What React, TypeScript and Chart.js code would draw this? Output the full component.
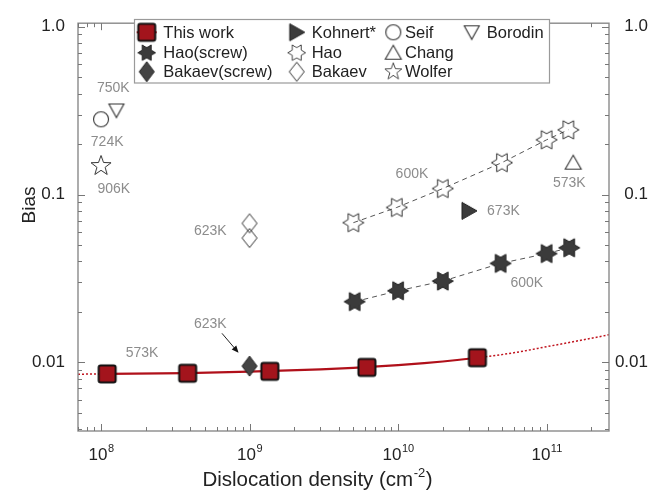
import React, { useEffect, useRef } from 'react';
import { Chart, registerables } from 'chart.js';

Chart.register(...registerables);

const FONT = '"Liberation Sans", Arial, sans-serif';

// ---------------- data ----------------
const thisWorkX = [1.1e8, 3.83e8, 1.37e9, 6.17e9, 3.42e10];
const thisWorkY = [0.00854, 0.00861, 0.00884, 0.00933, 0.01066];

const fitSolidX = [1.1e8, 3.8e8, 1e9, 3e9, 5e9, 1e10, 1.5e10, 2e10, 2.5e10, 3.42e10];
const fitSolidY = [0.00855, 0.00864, 0.0088, 0.00908, 0.00927, 0.00963, 0.0099, 0.01012, 0.01033, 0.01066];
const fitLeftX = [7e7, 1.1e8];
const fitLeftY = [0.0085, 0.00855];
const fitRightX = [3.42e10, 6e10, 1e11, 1.6e11, 2.63e11];
const fitRightY = [0.01066, 0.0114, 0.0124, 0.0134, 0.0146];

const haoScrewX = [5.1e9, 1e10, 2e10, 4.9e10, 1e11, 1.42e11];
const haoScrewY = [0.023, 0.0267, 0.0305, 0.0389, 0.0445, 0.0482];
const haoX = [5e9, 9.8e9, 2e10, 5e10, 1e11, 1.4e11];
const haoY = [0.068, 0.0838, 0.1086, 0.155, 0.212, 0.243];
const bakaevScrewX = [1e9];
const bakaevScrewY = [0.0095];
const bakaevX = [1e9, 1e9];
const bakaevY = [0.0674, 0.0551];
const kohnertX = [3e10];
const kohnertY = [0.08];
const seifX = [1e8];
const seifY = [0.281];
const changX = [1.51e11];
const changY = [0.155];
const wolferX = [1e8];
const wolferY = [0.148];
const borodinX = [1.27e8];
const borodinY = [0.317];

// temperature annotations (data coordinates)
const noteTexts = ['750K', '724K', '906K', '623K', '600K', '673K', '573K', '600K', '573K', '623K'];
const noteX = [1.21e8, 1.1e8, 1.22e8, 5.44e8, 1.24e10, 5.12e10, 1.42e11, 7.36e10, 1.89e8, 5.44e8];
const noteY = [0.433, 0.2047, 0.107, 0.0608, 0.1328, 0.0802, 0.117, 0.0298, 0.0114, 0.017];
const arrowFrom = [6.52e8, 0.0149];
const arrowTo = [8.43e8, 0.0114];

// axes
const xMin = 7e7;
const xMax = 2.63e11;
const yMin = 0.0039;
const yMax = 1.05;
const xTickValues = [1e8, 1e9, 1e10, 1e11];
const xTickExps = ['8', '9', '10', '11'];
const yTickValues = [0.01, 0.1, 1];
const yTickLabels = ['0.01', '0.1', '1.0'];
const xTitleMain = 'Dislocation density (cm';
const xTitleSup = '-2';
const xTitleEnd = ')';
const yTitle = 'Bias';

const legendColumns = [
  ['This work', 'Hao(screw)', 'Bakaev(screw)'],
  ['Kohnert*', 'Hao', 'Bakaev'],
  ['Seif', 'Chang', 'Wolfer'],
  ['Borodin'],
];

const zip = (xs: number[], ys: number[]) => xs.map((x, i) => ({ x, y: ys[i] }));

type Ctx = CanvasRenderingContext2D;
function makeMarker(size: number, draw: (c: Ctx) => void): HTMLCanvasElement {
  const c = document.createElement('canvas');
  c.width = size;
  c.height = size;
  const ctx = c.getContext('2d')!;
  ctx.translate(size / 2, size / 2);
  draw(ctx);
  return c;
}
function poly(ctx: Ctx, pts: number[][]) {
  ctx.beginPath();
  pts.forEach((p, i) => (i ? ctx.lineTo(p[0], p[1]) : ctx.moveTo(p[0], p[1])));
  ctx.closePath();
}
function starPts(n: number, R: number, r: number, start: number) {
  const pts: number[][] = [];
  for (let i = 0; i < 2 * n; i++) {
    const a = start + (i * Math.PI) / n;
    const rad = i % 2 === 0 ? R : r;
    pts.push([rad * Math.cos(a), rad * Math.sin(a)]);
  }
  return pts;
}

function buildMarkers() {
  const m: Record<string, HTMLCanvasElement> = {};
  m['This work'] = makeMarker(24, (c) => {
    c.beginPath();
    (c as any).roundRect(-8.5, -8.5, 17, 17, 2);
    c.fillStyle = '#a3141c';
    c.fill();
    c.lineWidth = 2;
    c.strokeStyle = '#111';
    c.stroke();
  });
  m['Hao(screw)'] = makeMarker(26, (c) => {
    poly(c, starPts(6, 10.5, 10.5 / Math.sqrt(3), 0));
    c.fillStyle = '#3b3b3b';
    c.fill();
    c.lineWidth = 1;
    c.strokeStyle = '#1c1c1c';
    c.stroke();
  });
  m['Hao'] = makeMarker(26, (c) => {
    poly(c, starPts(6, 10.5, 10.5 / Math.sqrt(3), 0));
    c.lineWidth = 1;
    c.strokeStyle = '#2e2e2e';
    c.stroke();
  });
  m['Bakaev(screw)'] = makeMarker(26, (c) => {
    poly(c, [[0, -10], [7.5, 0], [0, 10], [-7.5, 0]]);
    c.fillStyle = '#444';
    c.fill();
    c.lineWidth = 1;
    c.strokeStyle = '#222';
    c.stroke();
  });
  m['Bakaev'] = makeMarker(24, (c) => {
    poly(c, [[0, -9.5], [7.5, 0], [0, 9.5], [-7.5, 0]]);
    c.lineWidth = 1;
    c.strokeStyle = '#333';
    c.stroke();
  });
  m['Kohnert*'] = makeMarker(24, (c) => {
    poly(c, [[-7, -8.5], [8, 0], [-7, 8.5]]);
    c.fillStyle = '#3b3b3b';
    c.fill();
    c.lineWidth = 1;
    c.strokeStyle = '#222';
    c.stroke();
  });
  m['Seif'] = makeMarker(22, (c) => {
    c.beginPath();
    c.arc(0, 0, 7.5, 0, Math.PI * 2);
    c.lineWidth = 1.1;
    c.strokeStyle = '#333';
    c.stroke();
  });
  m['Chang'] = makeMarker(22, (c) => {
    poly(c, [[-8, 6.5], [8, 6.5], [0, -7.5]]);
    c.lineWidth = 1.1;
    c.strokeStyle = '#333';
    c.stroke();
  });
  m['Borodin'] = makeMarker(22, (c) => {
    poly(c, [[-7.5, -6.5], [7.5, -6.5], [0, 7]]);
    c.lineWidth = 1.1;
    c.strokeStyle = '#333';
    c.stroke();
  });
  m['Wolfer'] = makeMarker(26, (c) => {
    poly(c, starPts(5, 10.5, 4.3, -Math.PI / 2));
    c.lineWidth = 1;
    c.strokeStyle = '#333';
    c.stroke();
  });
  return m;
}

const isDecade = (v: number, t: number) => Math.abs(Math.log10(v) - Math.log10(t)) < 1e-6;

export default function App() {
  const ref = useRef<HTMLCanvasElement>(null);

  useEffect(() => {
    document.body.style.margin = '0';
    const markers = buildMarkers();

    const markerSet = (label: string, xs: number[], ys: number[]) => ({
      label,
      data: zip(xs, ys),
      showLine: false,
      pointStyle: markers[label],
      pointRadius: 6,
      borderWidth: 0,
    });

    const chrome = {
      id: 'chrome',
      afterDatasetsDraw(chart: any) {
        const { ctx, chartArea: a, scales } = chart;
        const xs = scales.x;
        const ys = scales.y;
        ctx.save();
        // annotations
        ctx.font = `14px ${FONT}`;
        ctx.fillStyle = '#8c8c8c';
        ctx.textAlign = 'center';
        ctx.textBaseline = 'middle';
        noteTexts.forEach((t, i) => {
          ctx.fillText(t, xs.getPixelForValue(noteX[i]), ys.getPixelForValue(noteY[i]));
        });
        // arrow
        const x0 = xs.getPixelForValue(arrowFrom[0]);
        const y0 = ys.getPixelForValue(arrowFrom[1]);
        const x1 = xs.getPixelForValue(arrowTo[0]);
        const y1 = ys.getPixelForValue(arrowTo[1]);
        const ang = Math.atan2(y1 - y0, x1 - x0);
        ctx.strokeStyle = '#222';
        ctx.fillStyle = '#111';
        ctx.lineWidth = 1;
        ctx.beginPath();
        ctx.moveTo(x0, y0);
        ctx.lineTo(x1 - 5 * Math.cos(ang), y1 - 5 * Math.sin(ang));
        ctx.stroke();
        ctx.beginPath();
        ctx.moveTo(x1, y1);
        ctx.lineTo(x1 - 7 * Math.cos(ang) + 3 * Math.sin(ang), y1 - 7 * Math.sin(ang) - 3 * Math.cos(ang));
        ctx.lineTo(x1 - 7 * Math.cos(ang) - 3 * Math.sin(ang), y1 - 7 * Math.sin(ang) + 3 * Math.cos(ang));
        ctx.closePath();
        ctx.fill();

        // frame
        ctx.strokeStyle = '#8a8a8a';
        ctx.lineWidth = 1.4;
        ctx.strokeRect(a.left, a.top, a.right - a.left, a.bottom - a.top);
        // inward ticks
        ctx.lineWidth = 1;
        ctx.strokeStyle = '#777';
        ctx.beginPath();
        for (let e = 7; e <= 11; e++) {
          for (let m = 1; m <= 9; m++) {
            const v = m * Math.pow(10, e);
            if (v < xMin || v > xMax) continue;
            const p = Math.round(xs.getPixelForValue(v)) + 0.5;
            const len = m === 1 ? 7 : 4;
            ctx.moveTo(p, a.bottom);
            ctx.lineTo(p, a.bottom - len);
            ctx.moveTo(p, a.top);
            ctx.lineTo(p, a.top + len);
          }
        }
        for (let e = -3; e <= 0; e++) {
          for (let m = 1; m <= 9; m++) {
            const v = m * Math.pow(10, e);
            if (v < yMin || v > yMax) continue;
            const p = Math.round(ys.getPixelForValue(v)) + 0.5;
            const len = m === 1 ? 7 : 4;
            ctx.moveTo(a.left, p);
            ctx.lineTo(a.left + len, p);
            ctx.moveTo(a.right, p);
            ctx.lineTo(a.right - len, p);
          }
        }
        ctx.stroke();
        ctx.restore();
      },
      afterDraw(chart: any) {
        const { ctx, scales } = chart;
        const xs = scales.x;
        ctx.save();
        // x tick labels with superscripts
        ctx.fillStyle = '#222';
        ctx.textBaseline = 'alphabetic';
        ctx.textAlign = 'left';
        xTickValues.forEach((v, i) => {
          const p = xs.getPixelForValue(v);
          ctx.font = `17px ${FONT}`;
          const wb = ctx.measureText('10').width;
          ctx.font = `11px ${FONT}`;
          const we = ctx.measureText(xTickExps[i]).width;
          const s = p - (wb + we) / 2;
          ctx.font = `17px ${FONT}`;
          ctx.fillText('10', s, 460);
          ctx.font = `11px ${FONT}`;
          ctx.fillText(xTickExps[i], s + wb + 0.5, 452);
        });
        // x title
        ctx.font = `20.5px ${FONT}`;
        const w1 = ctx.measureText(xTitleMain).width;
        const w3 = ctx.measureText(xTitleEnd).width;
        ctx.font = `13px ${FONT}`;
        const w2 = ctx.measureText(xTitleSup).width;
        const sx = 317 - (w1 + w2 + w3) / 2;
        ctx.font = `20.5px ${FONT}`;
        ctx.fillText(xTitleMain, sx, 486);
        ctx.font = `13px ${FONT}`;
        ctx.fillText(xTitleSup, sx + w1 + 0.5, 477);
        ctx.font = `20.5px ${FONT}`;
        ctx.fillText(xTitleEnd, sx + w1 + w2 + 1, 486);
        // y title
        ctx.font = `19px ${FONT}`;
        ctx.translate(30, 205);
        ctx.rotate(-Math.PI / 2);
        ctx.textAlign = 'center';
        ctx.textBaseline = 'middle';
        ctx.fillText(yTitle, 0, 0);
        ctx.setTransform(1, 0, 0, 1, 0, 0);

        // legend
        ctx.fillStyle = '#fff';
        ctx.strokeStyle = '#9a9a9a';
        ctx.lineWidth = 1.2;
        ctx.fillRect(134.5, 19.5, 415, 63.5);
        ctx.strokeRect(134.5, 19.5, 415, 63.5);
        const mx = [146.7, 296.7, 393.3, 471.7];
        const tx = [163.3, 311.7, 405, 486.7];
        const ry = [32.3, 52.7, 71.7];
        ctx.font = `16.5px ${FONT}`;
        ctx.textAlign = 'left';
        ctx.textBaseline = 'middle';
        legendColumns.forEach((col, ci) => {
          col.forEach((lab, ri) => {
            const cx = mx[ci];
            const cy = ry[ri];
            if (lab === 'This work') {
              ctx.strokeStyle = '#b0101a';
              ctx.lineWidth = 2;
              ctx.beginPath();
              ctx.moveTo(cx - 10, cy);
              ctx.lineTo(cx + 10, cy);
              ctx.stroke();
            }
            const mk = markers[lab];
            const sc = lab === 'Wolfer' || lab === 'Hao' || lab === 'Hao(screw)' ? 0.85 : 1;
            const w = mk.width * sc;
            const h = mk.height * sc;
            ctx.drawImage(mk, cx - w / 2, cy - h / 2, w, h);
            ctx.fillStyle = '#222';
            ctx.fillText(lab, tx[ci], cy + 1);
          });
        });
        ctx.restore();
      },
    };

    const yTickCallback = (v: any) => {
      const i = yTickValues.findIndex((t) => isDecade(+v, t));
      return i >= 0 ? yTickLabels[i] : '';
    };

    const chart = new Chart(ref.current!, {
      type: 'scatter',
      data: {
        datasets: [
          markerSet('This work', thisWorkX, thisWorkY),
          markerSet('Bakaev(screw)', bakaevScrewX, bakaevScrewY),
          {
            ...markerSet('Hao(screw)', haoScrewX, haoScrewY),
            showLine: true,
            borderColor: '#555',
            borderWidth: 1,
            borderDash: [5, 4],
          },
          {
            ...markerSet('Hao', haoX, haoY),
            showLine: true,
            borderColor: '#555',
            borderWidth: 1,
            borderDash: [5, 4],
          },
          markerSet('Kohnert*', kohnertX, kohnertY),
          markerSet('Bakaev', bakaevX, bakaevY),
          markerSet('Seif', seifX, seifY),
          markerSet('Chang', changX, changY),
          markerSet('Wolfer', wolferX, wolferY),
          markerSet('Borodin', borodinX, borodinY),
          {
            label: 'fit',
            data: zip(fitSolidX, fitSolidY),
            showLine: true,
            pointRadius: 0,
            borderColor: '#b0101a',
            borderWidth: 2.2,
            cubicInterpolationMode: 'monotone',
          },
          {
            label: 'fit left',
            data: zip(fitLeftX, fitLeftY),
            showLine: true,
            pointRadius: 0,
            borderColor: '#c0141e',
            borderWidth: 1.5,
            borderDash: [2, 2],
          },
          {
            label: 'fit right',
            data: zip(fitRightX, fitRightY),
            showLine: true,
            pointRadius: 0,
            borderColor: '#c0141e',
            borderWidth: 1.5,
            borderDash: [2, 2],
            cubicInterpolationMode: 'monotone',
          },
        ] as any,
      },
      options: {
        responsive: false,
        maintainAspectRatio: false,
        animation: false,
        events: [],
        layout: { padding: { top: 14, left: 0, right: 3, bottom: 0 } },
        plugins: { legend: { display: false }, tooltip: { enabled: false } },
        scales: {
          x: {
            type: 'logarithmic',
            position: 'bottom',
            min: xMin,
            max: xMax,
            grid: { display: false, drawTicks: false },
            border: { display: false },
            ticks: { display: false },
            afterFit: (s: any) => {
              s.height = 60;
            },
          },
          y: {
            type: 'logarithmic',
            position: 'left',
            min: yMin,
            max: yMax,
            grid: { display: false, drawTicks: false },
            border: { display: false },
            ticks: {
              autoSkip: false,
              padding: 13,
              color: '#222',
              font: { family: FONT, size: 17 },
              callback: yTickCallback,
            },
            afterFit: (s: any) => {
              s.width = 78;
            },
          },
          y2: {
            type: 'logarithmic',
            position: 'right',
            min: yMin,
            max: yMax,
            grid: { display: false, drawTicks: false },
            border: { display: false },
            ticks: {
              autoSkip: false,
              padding: 6,
              crossAlign: 'far',
              color: '#222',
              font: { family: FONT, size: 17 },
              callback: yTickCallback,
            },
            afterFit: (s: any) => {
              s.width = 39;
            },
          },
        },
      } as any,
      plugins: [chrome],
    });
    return () => chart.destroy();
  }, []);

  return (
    <div style={{ width: 651, height: 491 }}>
      <canvas ref={ref} width={651} height={491} />
    </div>
  );
}
